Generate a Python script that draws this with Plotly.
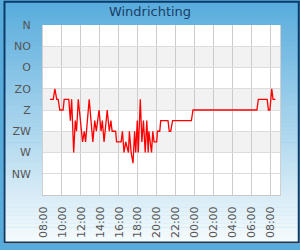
import plotly.graph_objects as go

title = "Windrichting"
times = [
    "2024-01-01 08:44", "2024-01-01 09:05", "2024-01-01 09:15", "2024-01-01 09:27",
    "2024-01-01 09:36", "2024-01-01 09:46", "2024-01-01 10:07", "2024-01-01 10:14",
    "2024-01-01 10:43", "2024-01-01 10:53", "2024-01-01 11:01", "2024-01-01 11:14",
    "2024-01-01 11:24", "2024-01-01 11:32", "2024-01-01 11:43", "2024-01-01 11:56",
    "2024-01-01 12:10", "2024-01-01 12:21", "2024-01-01 12:29", "2024-01-01 12:52",
    "2024-01-01 13:03", "2024-01-01 13:15", "2024-01-01 13:27", "2024-01-01 13:37",
    "2024-01-01 13:54", "2024-01-01 14:07", "2024-01-01 14:15", "2024-01-01 14:26",
    "2024-01-01 14:46", "2024-01-01 14:59", "2024-01-01 15:09", "2024-01-01 15:17",
    "2024-01-01 15:39", "2024-01-01 15:45", "2024-01-01 16:14", "2024-01-01 16:22",
    "2024-01-01 16:32", "2024-01-01 16:43", "2024-01-01 17:00", "2024-01-01 17:06",
    "2024-01-01 17:17", "2024-01-01 17:29", "2024-01-01 17:39", "2024-01-01 17:46",
    "2024-01-01 17:56", "2024-01-01 18:02", "2024-01-01 18:15", "2024-01-01 18:25",
    "2024-01-01 18:35", "2024-01-01 18:46", "2024-01-01 18:56", "2024-01-01 19:05",
    "2024-01-01 19:09", "2024-01-01 19:17", "2024-01-01 19:26", "2024-01-01 19:34",
    "2024-01-01 19:42", "2024-01-01 19:59", "2024-01-01 20:03", "2024-01-01 20:18",
    "2024-01-01 20:24", "2024-01-01 21:10", "2024-01-01 21:18", "2024-01-01 21:27",
    "2024-01-01 21:39", "2024-01-01 23:38", "2024-01-01 23:48", "2024-01-02 06:32",
    "2024-01-02 06:41", "2024-01-02 07:37", "2024-01-02 07:45", "2024-01-02 07:54",
    "2024-01-02 08:06", "2024-01-02 08:14", "2024-01-02 08:29",
]
direction = [
    157.5, 157.5, 135, 157.5,
    157.5, 180, 180, 157.5,
    157.5, 202.5, 157.5, 270,
    202.5, 225, 157.5, 202.5,
    247.5, 225, 247.5, 157.5,
    202.5, 247.5, 202.5, 225,
    180, 225, 202.5, 247.5,
    180, 225, 202.5, 225,
    225, 247.5, 247.5, 225,
    270, 247.5, 270, 225,
    270, 292.5, 225, 270,
    202.5, 270, 157.5, 247.5,
    202.5, 270, 202.5, 270,
    225, 247.5, 270, 225,
    247.5, 247.5, 225, 225,
    202.5, 202.5, 225, 225,
    202.5, 202.5, 180, 180,
    157.5, 157.5, 180, 180,
    135, 157.5, 157.5,
]
y_ticks = [0, 45, 90, 135, 180, 225, 270, 315]
y_labels = ["N", "NO", "O", "ZO", "Z", "ZW", "W", "NW"]
bands = [(45, 90), (135, 180), (225, 270)]

W, H = 300, 250
L, R, T, B = 40, 20, 25, 50
pw, ph = W - L - R, H - T - B

def px_x(p):
    return (p - L) / pw

def px_y(p):
    return (H - B - p) / ph

shapes = []
# gradient background
n = 60
top = (88, 172, 220)
bot = (246, 251, 253)
for i in range(n):
    f = i / (n - 1)
    c = tuple(round(top[k] + (bot[k] - top[k]) * f) for k in range(3))
    shapes.append(dict(type="rect", xref="paper", yref="paper", layer="below",
                       x0=px_x(0), x1=px_x(W), y0=px_y(i * H / n), y1=px_y((i + 1) * H / n + 0.5),
                       fillcolor="rgb(%d,%d,%d)" % c, line=dict(width=0)))
# plot area white
shapes.append(dict(type="rect", xref="paper", yref="paper", layer="below",
                   x0=0, x1=1, y0=0, y1=1, fillcolor="white", line=dict(width=0)))
for a, b in bands:
    shapes.append(dict(type="rect", xref="paper", yref="y", layer="below",
                       x0=0, x1=1, y0=a, y1=b, fillcolor="#f2f2f2", line=dict(width=0)))
# outer border
shapes.append(dict(type="rect", xref="paper", yref="paper", layer="above",
                   x0=px_x(1), x1=px_x(W - 1), y0=px_y(1), y1=px_y(H - 1),
                   fillcolor="rgba(0,0,0,0)", line=dict(color="#0b3b69", width=2)))

fig = go.Figure(go.Scatter(x=times, y=direction, mode="lines",
                           line=dict(color="#ff0000", width=1.3), hoverinfo="skip"))

fig.update_layout(
    width=W, height=H,
    margin=dict(l=L, r=R, t=T, b=B),
    paper_bgcolor="rgb(88,172,220)",
    plot_bgcolor="rgba(0,0,0,0)",
    showlegend=False,
    shapes=shapes,
    font=dict(family="DejaVu Sans", color="#555555", size=11),
    title=dict(text=title, x=0.5, xref="container", xanchor="center",
               y=1 - 11 / H, yref="container", yanchor="middle",
               font=dict(family="DejaVu Sans", size=13, color="#1b3d66")),
    xaxis=dict(
        type="date",
        range=["2024-01-01 08:00", "2024-01-02 08:58"],
        tick0="2024-01-01 08:00", dtick=2 * 3600000, tickformat="%H:%M",
        tickangle=-90, showgrid=True, gridcolor="#cccccc", gridwidth=1,
        showline=True, linecolor="#c8c8c8", linewidth=1,
        ticks="outside", ticklen=6, tickcolor="rgba(0,0,0,0)",
        zeroline=False, tickfont=dict(size=11, color="#555555"),
    ),
    yaxis=dict(
        range=[360, 0],
        tickvals=y_ticks, ticktext=y_labels,
        showgrid=True, gridcolor="#dcdcdc", gridwidth=1,
        showline=True, linecolor="#d0d0d0", linewidth=1, mirror=True,
        ticks="outside", ticklen=9, tickcolor="rgba(0,0,0,0)",
        zeroline=False, tickfont=dict(size=11, color="#555555"),
    ),
)

fig.write_html("out.html")
